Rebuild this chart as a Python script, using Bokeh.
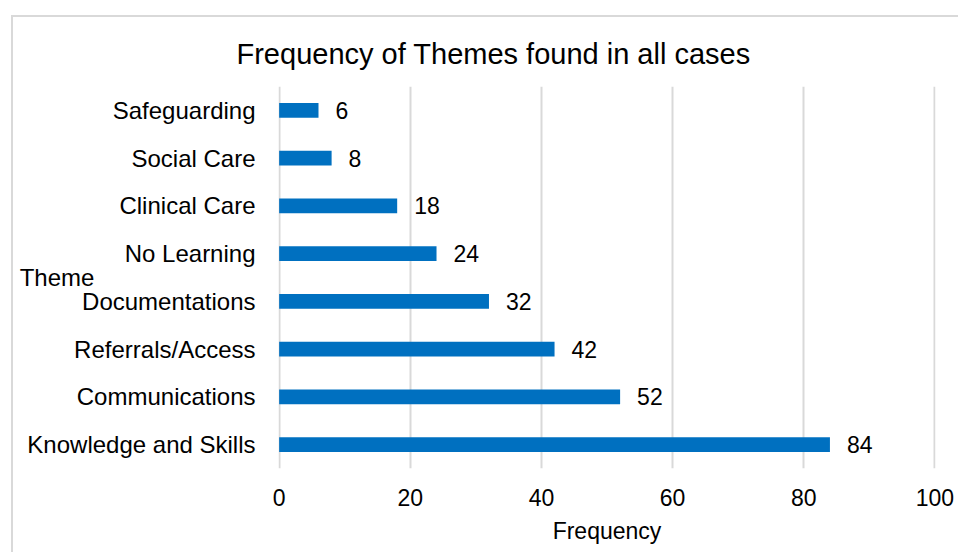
from bokeh.plotting import figure
from bokeh.models import FactorRange, Range1d, FixedTicker, Title
from bokeh.core.properties import value
from bokeh.embed import file_html
from bokeh.resources import INLINE

title_text = "Frequency of Themes found in all cases"
themes = ["Knowledge and Skills", "Communications", "Referrals/Access", "Documentations",
          "No Learning", "Clinical Care", "Social Care", "Safeguarding"]
frequency = [84, 52, 42, 32, 24, 18, 8, 6]
x_ticks = [0, 20, 40, 60, 80, 100]
x_label = "Frequency"
y_label = "Theme"

FONT = "Liberation Sans"
BLUE = "#0070C0"
GRID = "#d9d9d9"

p = figure(width=947, height=537, y_range=FactorRange(factors=themes, range_padding=0),
           x_range=Range1d(-0.1, 100.1), output_backend="svg", toolbar_location=None,
           min_border_left=265, min_border_right=25, min_border_top=69, min_border_bottom=86)
p.styles = {"margin-left": "11px", "margin-top": "15px",
            "border-left": "2px solid #d9d9d9", "border-top": "2px solid #d9d9d9"}
p.outline_line_color = None
p.background_fill_color = "white"
p.border_fill_color = "white"

p.hbar(y=themes, right=frequency, left=0, height=0.31, color=BLUE, line_color=None)
p.text(x=frequency, y=themes, text=[str(v) for v in frequency], x_offset=17, y_offset=0,
       text_baseline="middle", text_align="left", text_font=value(FONT),
       text_font_size="23px", text_color="#000000")

p.xaxis.ticker = FixedTicker(ticks=x_ticks)
p.xaxis.axis_line_color = None
p.xaxis.major_tick_line_color = None
p.xaxis.minor_tick_line_color = None
p.xaxis.major_label_text_font = FONT
p.xaxis.major_label_text_font_size = "23px"
p.xaxis.major_label_text_color = "#000000"
p.xaxis.major_label_standoff = 14
p.xaxis.axis_label = x_label
p.xaxis.axis_label_text_font = FONT
p.xaxis.axis_label_text_font_size = "23px"
p.xaxis.axis_label_text_font_style = "normal"
p.xaxis.axis_label_text_color = "#000000"
p.xaxis.axis_label_standoff = 9

p.yaxis.axis_line_color = None
p.yaxis.major_tick_line_color = None
p.yaxis.minor_tick_line_color = None
p.yaxis.major_label_text_font = FONT
p.yaxis.major_label_text_font_size = "24px"
p.yaxis.major_label_text_color = "#000000"
p.yaxis.major_label_standoff = 17

yax = p.yaxis[0]
yax.axis_label = y_label
yax.axis_label_text_font = FONT
yax.axis_label_text_font_size = "24px"
yax.axis_label_text_font_style = "normal"
yax.axis_label_text_color = "#000000"
if "axis_label_orientation" in yax.properties():
    yax.axis_label_orientation = "horizontal"
yax.axis_label_standoff = -70

p.ygrid.grid_line_color = None
p.xgrid.grid_line_color = GRID
p.xgrid.grid_line_width = 2

p.add_layout(Title(text=title_text, align="left", offset=-42, text_font=FONT,
                   text_font_size="29px", text_font_style="normal", text_color="#000000",
                   standoff=34), "above")

open("out.html", "w").write(file_html(p, INLINE))
